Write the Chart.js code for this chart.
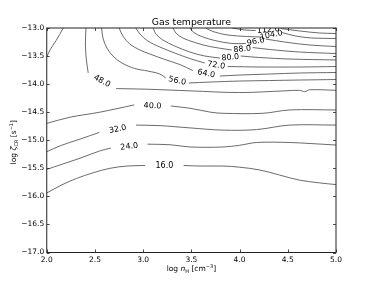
<!DOCTYPE html>
<html>
<head>
<meta charset="utf-8">
<script src="https://cdn.jsdelivr.net/npm/chart.js@4.4.1/dist/chart.umd.min.js"></script>
<style>
  html, body { margin: 0; padding: 0; background: #fff; }
  #wrap { width: 374px; height: 282px; }
</style>
</head>
<body>
<div id="wrap"><canvas id="chart" width="374" height="282"></canvas></div>
<script>
// axis ticks
const xTicks = [2.0, 2.5, 3.0, 3.5, 4.0, 4.5, 5.0];
const yTicks = [-17.0, -16.5, -16.0, -15.5, -15.0, -14.5, -14.0, -13.5, -13.0];

// contour levels (K) and their traced paths [log n, log zeta]; null = label gap
const levels = [16, 24, 32, 40, 48, 48, 56, 64, 72, 80, 88, 96, 104, 112];

const c16 = [[2.0,-15.94],[2.15,-15.80],[2.31,-15.68],[2.48,-15.58],[2.655,-15.50],[2.83,-15.46],[3.02,-15.45], null,
  [3.42,-15.45],[3.6,-15.46],[3.83,-15.46],[4.0,-15.48],[4.21,-15.53],[4.415,-15.62],[4.62,-15.71],[4.83,-15.76],[5.0,-15.79]];
const c24 = [[2.0,-15.52],[2.137,-15.44],[2.345,-15.32],[2.55,-15.19],[2.665,-15.14], null,
  [3.045,-15.07],[3.28,-15.08],[3.486,-15.12],[3.83,-15.12],[4.0,-15.09],[4.175,-15.04],[4.52,-15.04],[4.75,-15.06],[5.0,-15.085]];
const c32 = [[2.0,-15.205],[2.137,-15.10],[2.345,-14.98],[2.545,-14.86], null,
  [2.925,-14.73],[3.175,-14.74],[3.485,-14.78],[3.83,-14.82],[4.175,-14.81],[4.52,-14.73],[5.0,-14.73]];
const c40 = [[2.0,-14.70],[2.24,-14.59],[2.55,-14.50],[2.907,-14.37], null,
  [3.287,-14.39],[3.485,-14.43],[3.7,-14.50],[3.83,-14.52],[4.24,-14.52],[4.52,-14.46],[5.0,-14.46]];
const c48 = [[2.407,-13.0],[2.401,-13.285],[2.41,-13.55],[2.43,-13.80], null,
  [2.72,-14.08],[3.028,-14.09],[3.485,-14.12],[4.0,-14.15],[4.47,-14.12],[4.623,-14.11],[4.675,-14.135],[4.727,-14.10],[5.0,-14.11]];
const c48b = [[2.172,-13.0],[2.096,-13.226],[2.034,-13.39],[2.0,-13.52]];
const c56 = [[2.569,-13.0],[2.583,-13.178],[2.624,-13.357],[2.686,-13.499],[2.78,-13.624],[2.914,-13.722],[3.049,-13.767],[3.173,-13.82],[3.235,-13.89], null,
  [3.474,-13.98],[3.691,-13.963],[4.002,-13.945],[4.312,-13.936],[4.623,-13.927],[5.0,-13.918]];
const c64 = [[2.751,-13.0],[2.79,-13.143],[2.862,-13.285],[2.966,-13.392],[3.069,-13.463],[3.225,-13.561],[3.38,-13.651],[3.515,-13.758], null,
  [3.795,-13.856],[4.002,-13.838],[4.312,-13.82],[4.623,-13.802],[5.0,-13.793]];
const c72 = [[2.924,-13.0],[2.966,-13.107],[3.049,-13.232],[3.173,-13.339],[3.328,-13.446],[3.484,-13.544],[3.639,-13.624], null,
  [3.877,-13.686],[4.209,-13.695],[4.623,-13.695],[5.0,-13.686]];
const c80 = [[3.104,-13.0],[3.132,-13.107],[3.204,-13.214],[3.328,-13.321],[3.484,-13.428],[3.639,-13.499],[3.795,-13.535], null,
  [4.012,-13.499],[4.209,-13.526],[4.519,-13.553],[5.0,-13.57]];
const c88 = [[3.311,-13.0],[3.339,-13.089],[3.411,-13.178],[3.536,-13.258],[3.691,-13.33],[3.919,-13.392], null,
  [4.136,-13.348],[4.312,-13.383],[4.623,-13.428],[5.0,-13.455]];
const c96 = [[3.484,-13.0],[3.526,-13.08],[3.608,-13.152],[3.743,-13.223],[3.919,-13.276],[4.064,-13.276], null,
  [4.271,-13.196],[4.468,-13.25],[4.727,-13.303],[5.0,-13.33]];
const c104 = [[3.649,-13.0],[3.722,-13.062],[3.877,-13.125],[4.084,-13.152],[4.219,-13.16], null,
  [4.437,-13.08],[4.582,-13.143],[4.747,-13.178],[5.0,-13.187]];
const c112 = [[3.919,-13.0],[4.053,-13.036],[4.167,-13.045], null,
  [4.426,-13.009],[4.623,-13.053],[4.83,-13.089],[5.0,-13.098]];

const paths = [c16, c24, c32, c40, c48, c48b, c56, c64, c72, c80, c88, c96, c104, c112];

const FONT = '"DejaVu Sans", sans-serif';

function toPoints(path) {
    let lastX = 0;
    return path.map(p => {
        if (p === null) return { x: lastX, y: null };
        lastX = p[0];
        return { x: p[0], y: p[1] };
    });
}

const datasets = paths.map((path, i) => ({
    label: String(levels[i]),
    data: toPoints(path),
    level: levels[i],
    borderColor: '#505050',
    borderWidth: 0.85,
    pointRadius: 0,
    tension: 0.35,
    spanGaps: false,
    fill: false
}));

function fmt(v) {
    return (v < 0 ? '\u2212' : '') + Math.abs(v).toFixed(1);
}

// draw a run of text pieces with sub/superscripts
function drawRich(ctx, parts, x, y) {
    let total = 0;
    parts.forEach(p => {
        ctx.font = (p.italic ? 'italic ' : '') + p.size + 'px ' + FONT;
        p.w = ctx.measureText(p.t).width;
        total += p.w;
    });
    let cx = x - total / 2;
    parts.forEach(p => {
        ctx.font = (p.italic ? 'italic ' : '') + p.size + 'px ' + FONT;
        ctx.fillText(p.t, cx, y + (p.dy || 0));
        cx += p.w;
    });
}

const decorations = {
    id: 'decorations',
    afterDatasetsDraw(chart) {
        const ctx = chart.ctx;
        const xs = chart.scales.x, ys = chart.scales.y;
        const area = chart.chartArea;

        // contour labels in the gaps
        ctx.save();
        ctx.beginPath();
        ctx.rect(area.left, area.top, area.right - area.left, area.bottom - area.top);
        ctx.clip();
        ctx.fillStyle = '#000';
        ctx.font = '8px ' + FONT;
        ctx.textAlign = 'center';
        ctx.textBaseline = 'middle';
        chart.data.datasets.forEach(ds => {
            const d = ds.data;
            const gi = d.findIndex(p => p.y === null);
            if (gi < 1) return;
            const a = d[gi - 1], b = d[gi + 1];
            const ax = xs.getPixelForValue(a.x), ay = ys.getPixelForValue(a.y);
            const bx = xs.getPixelForValue(b.x), by = ys.getPixelForValue(b.y);
            ctx.save();
            ctx.translate((ax + bx) / 2, (ay + by) / 2);
            ctx.rotate(Math.atan2(by - ay, bx - ax));
            ctx.fillText(ds.level.toFixed(1), 0, 0.5);
            ctx.restore();
        });
        ctx.restore();
    },
    afterDraw(chart) {
        const ctx = chart.ctx;
        const xs = chart.scales.x, ys = chart.scales.y;
        const a = chart.chartArea;
        ctx.save();
        // frame
        ctx.strokeStyle = '#222';
        ctx.lineWidth = 1;
        ctx.strokeRect(a.left, a.top, a.right - a.left, a.bottom - a.top);
        // inward ticks on all four sides
        ctx.lineWidth = 0.8;
        ctx.beginPath();
        xTicks.forEach(v => {
            const px = Math.round(xs.getPixelForValue(v)) + 0.5;
            ctx.moveTo(px, a.bottom); ctx.lineTo(px, a.bottom - 3);
            ctx.moveTo(px, a.top); ctx.lineTo(px, a.top + 3);
        });
        yTicks.forEach(v => {
            const py = Math.round(ys.getPixelForValue(v)) + 0.5;
            ctx.moveTo(a.left, py); ctx.lineTo(a.left + 3, py);
            ctx.moveTo(a.right, py); ctx.lineTo(a.right - 3, py);
        });
        ctx.stroke();

        // title
        ctx.fillStyle = '#000';
        ctx.textAlign = 'left';
        ctx.textBaseline = 'alphabetic';
        ctx.font = '9.3px ' + FONT;
        const title = 'Gas temperature';
        ctx.fillText(title, (a.left + a.right) / 2 - ctx.measureText(title).width / 2, 25);

        // x axis label
        drawRich(ctx, [
            { t: 'log ', size: 7.5 },
            { t: 'n', size: 7.5, italic: true },
            { t: 'H', size: 5, dy: 1.5 },
            { t: ' [cm', size: 7.5 },
            { t: '\u22123', size: 5, dy: -3 },
            { t: ']', size: 7.5 }
        ], (a.left + a.right) / 2, 271);

        // y axis label
        ctx.translate(16, (a.top + a.bottom) / 2 + 2);
        ctx.rotate(-Math.PI / 2);
        drawRich(ctx, [
            { t: 'log ', size: 7.5 },
            { t: '\u03b6', size: 7.5, italic: true },
            { t: 'CR', size: 5, dy: 1.5 },
            { t: ' [s', size: 7.5 },
            { t: '\u22121', size: 5, dy: -3 },
            { t: ']', size: 7.5 }
        ], 0, 0);
        ctx.restore();
    }
};

new Chart(document.getElementById('chart'), {
    type: 'line',
    data: { datasets },
    options: {
        responsive: false,
        animation: false,
        parsing: false,
        normalized: true,
        layout: { padding: { top: 28, right: 38, left: 0, bottom: 0 } },
        plugins: {
            legend: { display: false },
            tooltip: { enabled: false },
            title: { display: false }
        },
        scales: {
            x: {
                type: 'linear',
                min: 2, max: 5,
                grid: { display: false, drawTicks: false },
                border: { display: false },
                afterFit: s => { s.height = 29.5; },
                afterBuildTicks: s => { s.ticks = xTicks.map(v => ({ value: v })); },
                ticks: {
                    autoSkip: false, maxRotation: 0, padding: 3,
                    color: '#000', font: { family: FONT, size: 7.5 },
                    callback: v => v.toFixed(1)
                }
            },
            y: {
                type: 'linear',
                min: -17, max: -13,
                grid: { display: false, drawTicks: false },
                border: { display: false },
                afterFit: s => { s.width = 46.75; },
                afterBuildTicks: s => { s.ticks = yTicks.map(v => ({ value: v })); },
                ticks: {
                    autoSkip: false, padding: 2.5,
                    color: '#000', font: { family: FONT, size: 7.5 },
                    callback: v => fmt(v)
                }
            }
        }
    },
    plugins: [decorations]
});
</script>
</body>
</html>
